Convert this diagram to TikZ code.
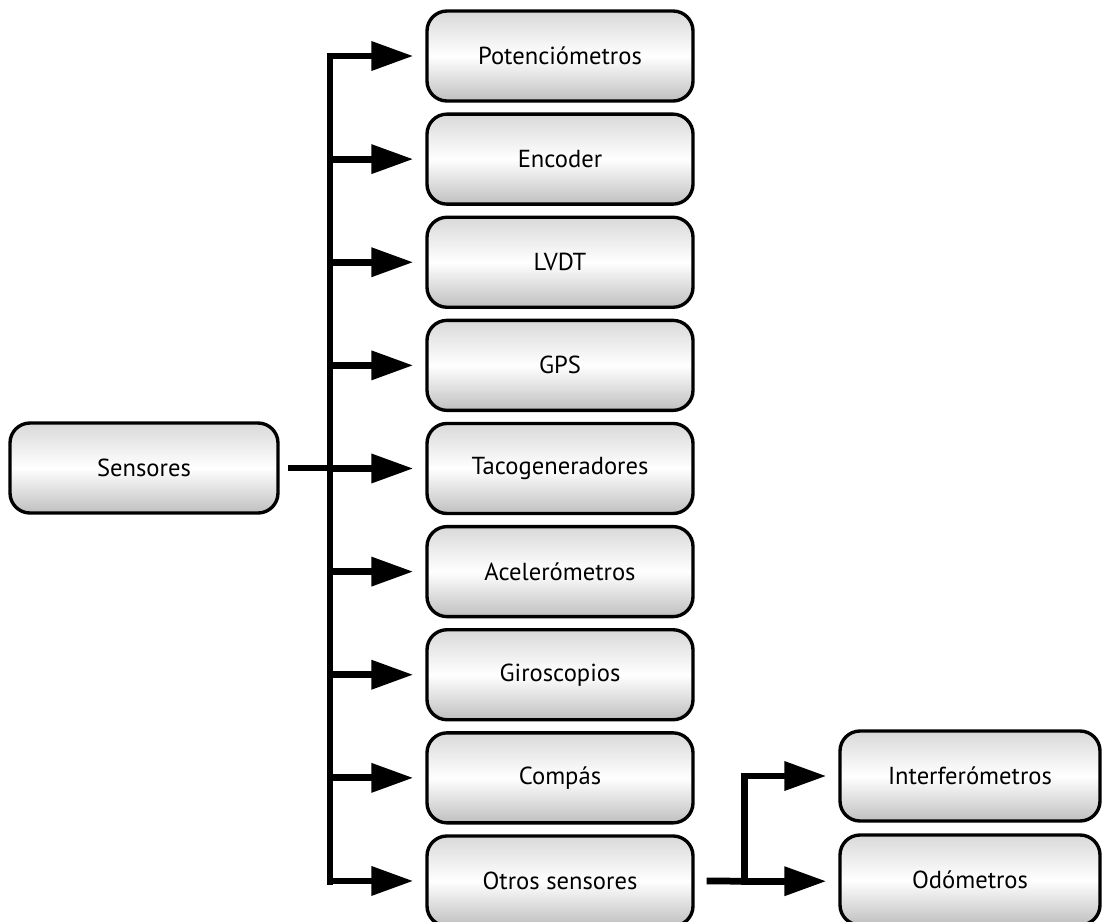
\documentclass[tikz,border=0pt]{standalone}
\usepackage{fontspec}
\setmainfont{PT Sans}
\usetikzlibrary{%
  arrows.meta,%
  positioning% wg. " of "
}

\begin{document}
\begin{tikzpicture}[
    box/.style={rectangle, rounded corners=0.5cm, draw, line width=2.4pt,
      minimum width=6.65cm, minimum height=2.25cm,
      top color=gray!30, bottom color=gray!50, middle color=white,
      font=\fontsize{17.5}{20}\selectfont},
    tip/.style={line width=4.8pt, -{Triangle[length=1.05cm, width=0.7cm]}},
    bus/.style={line width=4.8pt, line cap=rect}
  ]
  \useasboundingbox (0,0) rectangle (27.6,-23.025);

  % draw boxes
  \node[box, minimum width=6.7cm] at (3.6,-11.7) (sens) {Sensores};
  \foreach \n/\txt [count=\i from 0] in {pot/Potenciómetros, enc/Encoder,
      lvdt/LVDT, gps/GPS, taco/Tacogeneradores, acel/Acelerómetros,
      giro/Giroscopios, comp/Compás, otros/Otros sensores}{
    \node[box] at (14,-1.4-2.578*\i) (\n) {\txt};}
  \node[box, minimum width=6.5cm] at (24.25,-19.4) (inter) {Interferómetros};
  \node[box, minimum width=6.5cm] at (24.25,-22.0) (odo) {Odómetros};

  % draw connections
  \coordinate (bt) at (8.25,-1.4);
  \coordinate (bb) at (8.25,-22.03);
  \draw[bus] (bt) -- (bb);
  \draw[bus, line cap=butt] (sens.east) ++(0.2,0) -- (bt |- sens.east);
  \foreach \n in {pot,enc,lvdt,gps,taco,acel,giro,comp,otros}{
    \draw[tip] (bt |- \n) -- ([xshift=-0.3cm]\n.west);}

  \coordinate (ot) at (18.62,-19.4);
  \coordinate (ob) at (18.62,-22.03);
  \draw[bus, line cap=butt] (otros.east) ++(0.3,0) -- (ob);
  \draw[bus] (ot) -- (ob);
  \draw[tip] (ob) -- ([xshift=-0.3cm]odo.west |- ob);
  \draw[tip] (ot) -- ([xshift=-0.3cm]inter.west);
\end{tikzpicture}
\end{document}
